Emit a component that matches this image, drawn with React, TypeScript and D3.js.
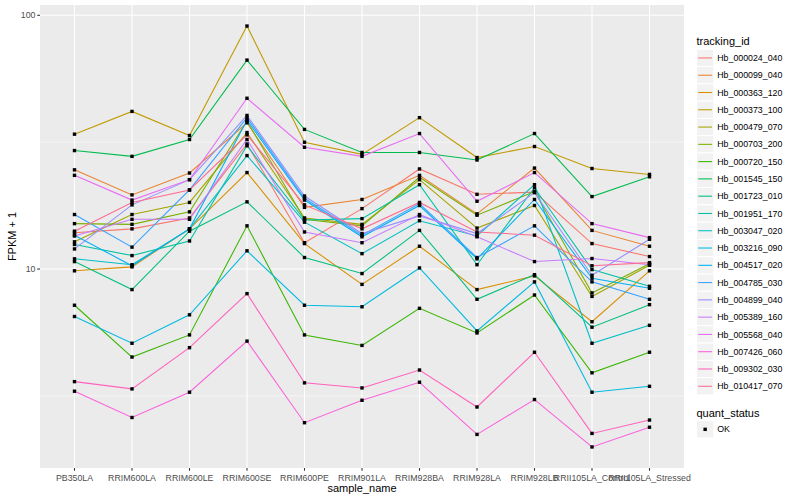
import React from "react";
import * as d3 from "d3";

const samples = [
  "PB350LA", "RRIM600LA", "RRIM600LE", "RRIM600SE", "RRIM600PE", "RRIM901LA",
  "RRIM928BA", "RRIM928LA", "RRIM928LB", "RRII105LA_Control", "RRII105LA_Stressed",
];

const trackingIds = [
  "Hb_000024_040", "Hb_000099_040", "Hb_000363_120", "Hb_000373_100", "Hb_000479_070",
  "Hb_000703_200", "Hb_000720_150", "Hb_001545_150", "Hb_001723_010", "Hb_001951_170",
  "Hb_003047_020", "Hb_003216_090", "Hb_004517_020", "Hb_004785_030", "Hb_004899_040",
  "Hb_005389_160", "Hb_005568_040", "Hb_007426_060", "Hb_009302_030", "Hb_010417_070",
];

const trackColors = [
  "#F8766D", "#EA8331", "#D89000", "#C09B00", "#A3A500", "#7CAE00", "#39B600", "#00BB4E",
  "#00BF7D", "#00C1A3", "#00BFC4", "#00BAE0", "#00B0F6", "#35A2FF", "#9590FF", "#C77CFF",
  "#E76BF3", "#FA62DB", "#FF62BC", "#FF6C91",
];

// FPKM + 1 per sample, one array per tracking id
const hb_000024_040 = [13.9, 14.4, 15.9, 31.1, 12.7, 17.3, 24.8, 19.7, 20.1, 12.6, 11.2];
const hb_000099_040 = [24.6, 19.6, 23.9, 37.7, 17.5, 18.8, 23.4, 16.5, 25.0, 14.2, 12.3];
const hb_000363_120 = [9.84, 10.2, 14.4, 24.0, 12.6, 8.7, 12.3, 8.3, 9.4, 6.2, 9.84];
const hb_000373_100 = [34.0, 41.8, 33.6, 90.7, 31.6, 28.3, 39.5, 27.5, 30.4, 24.9, 23.6];
const hb_000479_070 = [12.8, 16.4, 18.3, 34.5, 15.9, 15.0, 22.5, 14.5, 17.8, 7.8, 10.35];
const hb_000703_200 = [15.1, 15.0, 16.8, 38.3, 15.7, 14.8, 23.0, 16.3, 20.2, 8.05, 10.5];
const hb_000720_150 = [7.2, 4.5, 5.5, 14.8, 5.5, 5.0, 7.0, 5.6, 7.9, 3.9, 4.7];
const hb_001545_150 = [29.3, 27.8, 32.4, 66.6, 35.5, 28.8, 28.8, 26.9, 34.2, 19.3, 23.1];
const hb_001723_010 = [10.7, 8.3, 14.1, 18.4, 11.1, 9.6, 14.2, 7.6, 9.5, 5.9, 7.24];
const hb_001951_170 = [12.5, 11.3, 12.9, 30.6, 15.6, 15.8, 21.5, 10.4, 20.9, 9.95, 8.55];
const hb_003047_020 = [10.97, 10.4, 14.4, 28.0, 15.3, 11.5, 15.5, 13.5, 21.5, 5.1, 6.0];
const hb_003216_090 = [6.5, 5.1, 6.6, 11.8, 7.2, 7.1, 10.1, 5.7, 8.9, 3.27, 3.45];
const hb_004517_020 = [13.6, 10.3, 14.4, 38.6, 18.7, 13.4, 17.8, 10.97, 18.8, 9.2, 8.4];
const hb_004785_030 = [16.4, 12.2, 20.5, 39.5, 19.0, 13.6, 18.1, 11.1, 14.8, 8.9, 7.6];
const hb_004899_040 = [12.0, 17.9, 22.5, 40.3, 19.4, 13.8, 16.2, 13.8, 20.0, 9.45, 13.1];
const hb_005389_160 = [13.5, 15.7, 15.7, 32.4, 14.0, 12.7, 16.4, 13.4, 10.7, 11.0, 10.4];
const hb_005568_040 = [23.4, 18.7, 22.5, 47.1, 30.2, 27.8, 34.2, 18.5, 24.0, 15.1, 13.3];
const hb_007426_060 = [3.3, 2.6, 3.27, 5.2, 2.48, 3.04, 3.58, 2.23, 3.06, 1.99, 2.38];
const hb_009302_030 = [3.6, 3.37, 4.9, 8.0, 3.56, 3.4, 4.0, 2.86, 4.7, 2.25, 2.54];
const hb_010417_070 = [14.1, 18.3, 20.5, 33.8, 17.9, 14.4, 18.3, 14.0, 13.6, 10.3, 10.6];

const seriesValues = [
  hb_000024_040, hb_000099_040, hb_000363_120, hb_000373_100, hb_000479_070,
  hb_000703_200, hb_000720_150, hb_001545_150, hb_001723_010, hb_001951_170,
  hb_003047_020, hb_003216_090, hb_004517_020, hb_004785_030, hb_004899_040,
  hb_005389_160, hb_005568_040, hb_007426_060, hb_009302_030, hb_010417_070,
];

const yMajorTicks = [10, 100];
const yMinorTicks = [Math.sqrt(10), Math.sqrt(1000)];
const quantStatus = ["OK"];

const FONT = "'Liberation Sans', Arial, Helvetica, sans-serif";

export default function App() {
  const W = 800, H = 500;
  const panel = { left: 40, right: 684, top: 5, bottom: 468 };

  const x = d3.scalePoint<string>().domain(samples).range([panel.left, panel.right]).padding(0.6);

  const all = seriesValues.flat();
  const lmin = Math.log10(d3.min(all) as number);
  const lmax = Math.log10(d3.max(all) as number);
  const ex = (lmax - lmin) * 0.05;
  const y = d3.scaleLog().domain([Math.pow(10, lmin - ex), Math.pow(10, lmax + ex)]).range([panel.bottom, panel.top]);

  const line = d3.line<number>().x((_, i) => x(samples[i]) as number).y((d) => y(d));

  const legX = 696.5;
  const keyH = 17.28;
  const keyTop = 49.3;
  const pt = 3.4;

  return (
    <svg width={W} height={H} style={{ position: "absolute", left: 0, top: 0, background: "#fff" }} fontFamily={FONT}>
      <rect x={0} y={0} width={W} height={H} fill="#fff" />
      <rect x={panel.left} y={panel.top} width={panel.right - panel.left} height={panel.bottom - panel.top} fill="#EBEBEB" />
      {yMinorTicks.map((t) => (
        <line key={"mn" + t} x1={panel.left} x2={panel.right} y1={y(t)} y2={y(t)} stroke="#fff" strokeWidth={0.53} />
      ))}
      {yMajorTicks.map((t) => (
        <line key={"mj" + t} x1={panel.left} x2={panel.right} y1={y(t)} y2={y(t)} stroke="#fff" strokeWidth={1.07} />
      ))}
      {samples.map((s) => (
        <line key={"vx" + s} x1={x(s)} x2={x(s)} y1={panel.top} y2={panel.bottom} stroke="#fff" strokeWidth={1.07} />
      ))}
      {seriesValues.map((vals, i) => (
        <path key={"l" + i} d={line(vals) as string} fill="none" stroke={trackColors[i]} strokeWidth={1.07} />
      ))}
      {seriesValues.map((vals, i) =>
        vals.map((v, j) => (
          <rect key={"p" + i + "_" + j} x={(x(samples[j]) as number) - pt / 2} y={y(v) - pt / 2} width={pt} height={pt} fill="#000" />
        ))
      )}
      {/* y axis */}
      {yMajorTicks.map((t) => (
        <g key={"yt" + t}>
          <line x1={panel.left - 2.75} x2={panel.left} y1={y(t)} y2={y(t)} stroke="#333" strokeWidth={1.07} />
          <text x={panel.left - 4.5} y={y(t)} dy="0.35em" textAnchor="end" fontSize={8.8} fill="#4D4D4D">{t}</text>
        </g>
      ))}
      {/* x axis */}
      {samples.map((s) => (
        <g key={"xt" + s}>
          <line x1={x(s)} x2={x(s)} y1={panel.bottom} y2={panel.bottom + 2.75} stroke="#333" strokeWidth={1.07} />
          <text x={x(s)} y={panel.bottom + 12.5} textAnchor="middle" fontSize={8.8} fill="#4D4D4D">{s}</text>
        </g>
      ))}
      <text x={(panel.left + panel.right) / 2} y={492} textAnchor="middle" fontSize={11} fill="#000">sample_name</text>
      <text transform={`translate(15.5, ${(panel.top + panel.bottom) / 2}) rotate(-90)`} textAnchor="middle" fontSize={11} fill="#000">FPKM + 1</text>
      {/* legend: tracking_id */}
      <text x={legX} y={44.5} fontSize={11} fill="#000">tracking_id</text>
      {trackingIds.map((id, i) => {
        const ky = keyTop + i * keyH;
        return (
          <g key={"lg" + id}>
            <rect x={legX} y={ky} width={keyH} height={keyH} fill="#F2F2F2" stroke="#fff" strokeWidth={1} />
            <line x1={legX + keyH * 0.1} x2={legX + keyH * 0.9} y1={ky + keyH / 2} y2={ky + keyH / 2} stroke={trackColors[i]} strokeWidth={1.07} />
            <text x={legX + keyH + 3.5} y={ky + keyH / 2} dy="0.35em" fontSize={8.8} fill="#000">{id}</text>
          </g>
        );
      })}
      {/* legend: quant_status */}
      <text x={legX} y={416.5} fontSize={11} fill="#000">quant_status</text>
      {quantStatus.map((q, i) => {
        const ky = 420.7 + i * keyH;
        return (
          <g key={"qs" + q}>
            <rect x={legX} y={ky} width={keyH} height={keyH} fill="#F2F2F2" stroke="#fff" strokeWidth={1} />
            <rect x={legX + keyH / 2 - pt / 2} y={ky + keyH / 2 - pt / 2} width={pt} height={pt} fill="#000" />
            <text x={legX + keyH + 3.5} y={ky + keyH / 2} dy="0.35em" fontSize={8.8} fill="#000">{q}</text>
          </g>
        );
      })}
    </svg>
  );
}
